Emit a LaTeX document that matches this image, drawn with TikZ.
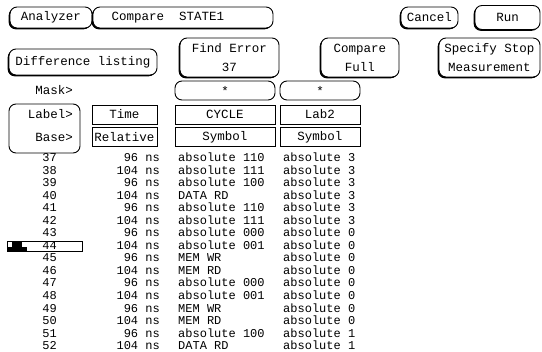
\documentclass[tikz,border=0pt]{standalone}
\usepackage{fontspec}
\setmonofont{Liberation Mono}
\usetikzlibrary{positioning,shadows}

\newcommand{\headfont}{\ttfamily\fontsize{12.5}{19}\selectfont}
\newcommand{\listfont}{\ttfamily\fontsize{12}{12}\selectfont}

\tikzset{
  softkey/.style={draw, line width=0.9pt, rounded corners=7pt, fill=white, inner sep=0pt, align=center, font=\headfont,
    drop shadow={shadow xshift=-1.3pt, shadow yshift=-1.3pt, fill=black, opacity=1}},
  maskbox/.style={draw, line width=0.9pt, rounded corners=7pt, minimum height=19pt, inner sep=0pt, font=\headfont},
  fieldbox/.style={draw, line width=0.9pt, minimum height=19pt, inner sep=0pt, font=\headfont},
  tag/.style={anchor=east, inner sep=0pt, font=\headfont},
  cell/.style={inner sep=0pt, font=\listfont}
}

\begin{document}
\begin{tikzpicture}[x=1pt, y=-1pt]
    \useasboundingbox (0,0) rectangle (542,352);

    % Top softkeys
    \node[softkey, minimum width=82pt, minimum height=21pt] (analyzer) at (51,17.5) {Analyzer};
    \node[softkey, minimum width=180pt, minimum height=21pt] (compare) at (183,17.5) {Compare\ \ STATE1\hspace{30pt}};
    \node[softkey, minimum width=57pt, minimum height=21pt] (cancel) at (429.5,17.5) {Cancel};
    \node[softkey, minimum width=65pt, minimum height=24pt] (run) at (507.5,17.5) {Run};

    \node[softkey, minimum width=148pt, minimum height=26pt] (difflist) at (83,62) {Difference listing};
    \node[softkey, minimum width=99pt, minimum height=39pt] (finderr) at (229.5,57.5) {Find Error\\37};
    \node[softkey, minimum width=78pt, minimum height=39pt] (cmpfull) at (360,57.5) {Compare\\Full};
    \node[softkey, minimum width=101pt, minimum height=39pt] (stopmeas) at (489.5,57.5) {Specify Stop\\Measurement};

    % Mask, label and base fields
    \node[tag] (mask) at (73,90.5) {Mask>};
    \node[maskbox, minimum width=100pt] (maskcyc) at (225,90.5) {*};
    \node[maskbox, minimum width=80pt] (masklab) at (320,90.5) {*};

    \node[draw, line width=0.9pt, rounded corners=7pt, minimum width=71pt, minimum height=49pt] (labelbase) at (44.5,128.5) {};
    \node[tag] (label) at (73,114.5) {Label>};
    \node[tag] (base) at (73,137) {Base>};

    \node[fieldbox, minimum width=65pt] (time) at (124.5,114.5) {Time};
    \node[fieldbox, minimum width=65pt] (rel) at (124.5,137) {Relative};
    \node[fieldbox, minimum width=100pt] (cycle) at (225,114.5) {CYCLE};
    \node[fieldbox, minimum width=100pt] (cycbase) at (225,137) {Symbol};
    \node[fieldbox, minimum width=80pt] (lab2) at (320,114.5) {Lab2\hspace{13pt}};
    \node[fieldbox, minimum width=80pt] (labbase) at (320,137) {Symbol};

    % Cursor on state 44
    \node[draw, line width=0.9pt, minimum width=75pt, minimum height=10pt, inner sep=0pt] (cursor) at (44.5,246) {};
    \fill (cursor.south west) rectangle ++(20,-4);
    \fill ([xshift=5pt]cursor.south west) rectangle ++(10,-9);

    % Listing
    \foreach \n/\t/\c/\l in {37/96/absolute 110/3, 38/104/absolute 111/3, 39/96/absolute 100/3,
        40/104/DATA RD/3, 41/96/absolute 110/3, 42/104/absolute 111/3, 43/96/absolute 000/0,
        44/104/absolute 001/0, 45/96/MEM WR/0, 46/104/MEM RD/0, 47/96/absolute 000/0,
        48/104/absolute 001/0, 49/96/MEM WR/0, 50/104/MEM RD/0, 51/96/absolute 100/1, 52/104/DATA RD/1} {
        \pgfmathsetmacro\ry{161.5+(\n-37)*12.55}
        \node[cell, anchor=base east] (num\n) at (57,\ry) {\n};
        \node[cell, anchor=base east] (time\n) at (160,\ry) {\t\ ns};
        \node[cell, anchor=base west] (cyc\n) at (178,\ry) {\c};
        \node[cell, anchor=base west] (lab\n) at (283,\ry) {absolute \l};
    }
\end{tikzpicture}
\end{document}
